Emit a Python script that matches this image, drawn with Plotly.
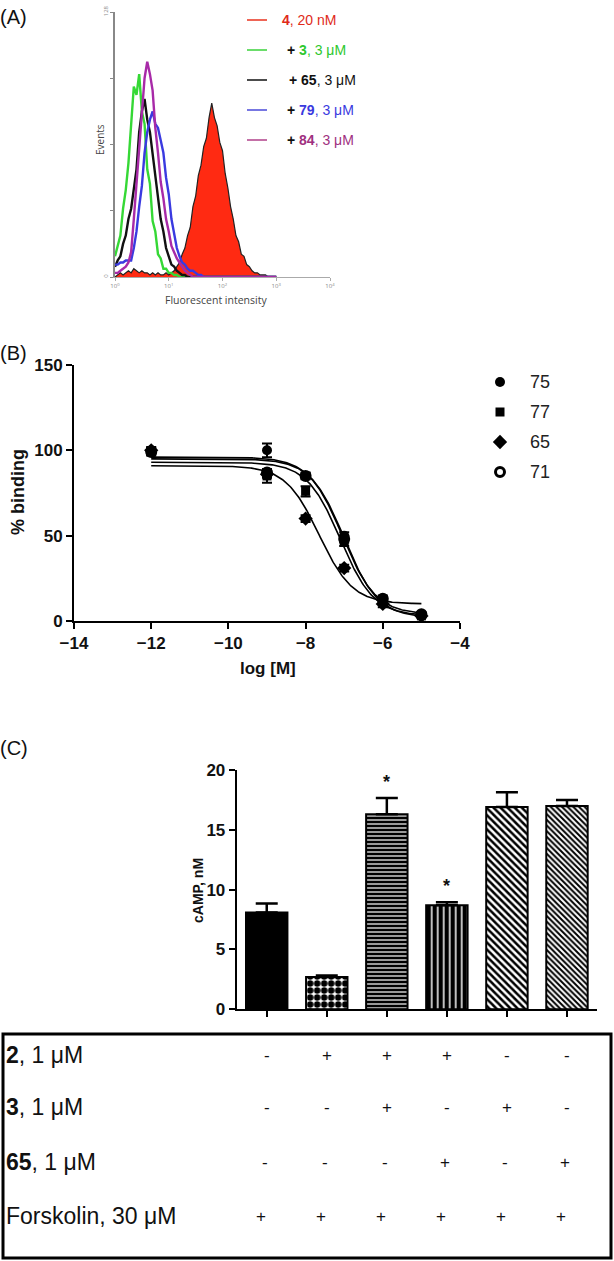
import numpy as np
import plotly.graph_objects as go

W, H = 614, 1261

# ---------------- Panel A data (histograms, log10 decades) ----------------
hist_decades = np.round(np.arange(0, 3.001, 0.05), 2)
red_4 = [0, 1, 2, 1, 2, 3, 2, 4, 3, 2, 3, 2, 2, 1, 2, 1, 2, 1, 1, 2, 1,
         2, 3, 5, 7, 11, 14, 20, 24, 34, 39, 49, 54, 63, 67, 77, 84, 77, 73, 65, 61,
         50, 43, 34, 28, 20, 17, 11, 10, 6, 5, 3, 2, 2, 1, 1, 1, 0, 0, 0, 0]
green_3 = [10, 15, 20, 33, 42, 55, 74, 92, 88, 98, 80, 74, 52, 45, 27, 22, 11, 9, 4, 4, 2,
           2, 1, 1, 0] + [0] * 36
black_65 = [5, 8, 10, 16, 20, 28, 33, 44, 52, 70, 80, 86, 76, 70, 60, 50, 40, 28, 22, 14, 10,
            6, 5, 3, 2, 1, 1, 0] + [0] * 33
blue_79 = [6, 6, 7, 7, 8, 8, 8, 14, 22, 34, 44, 60, 70, 76, 80, 74, 72, 66, 60, 48, 40,
           28, 20, 14, 10, 7, 6, 4, 3, 3, 2, 1, 1, 0] + [0] * 27
magenta_84 = [2, 2, 3, 4, 5, 7, 12, 28, 45, 58, 78, 96, 104, 98, 90, 72, 60, 46, 38, 28, 22,
              15, 12, 9, 7, 5, 3, 2, 1, 0] + [0] * 31
a_xticks = [0, 1, 2, 3, 4]
a_xticktext = ["10<sup>0</sup>", "10<sup>1</sup>", "10<sup>2</sup>", "10<sup>3</sup>", "10<sup>4</sup>"]

# ---------------- Panel B data ----------------
log_conc = [-12, -9, -8, -7, -6, -5]
b_names = ["75", "77", "65", "71"]
b75 = [100, 100, 85, 50, 12, 4]
b77 = [99, 85, 76, 47, 12, 3]
b65 = [100, 86, 60, 31, 10, 3]
b71 = [99, 87, 85, 48, 13, 4]
e75 = [2, 4, 1.5, 2, 1.5, 1]
e77 = [1.5, 4, 3, 3, 2, 1]
e65 = [1.5, 2, 2, 2, 2, 1]
e71 = [2, 2, 2, 2, 2, 1]
fit_top = [96, 93, 91, 95]
fit_bottom = [4, 3, 10, 2]
fit_logic50 = [-7.05, -7.1, -7.65, -7.0]
fit_hill = [1.0, 1.0, 1.0, 1.0]

# ---------------- Panel C data ----------------
camp = [8.1, 2.7, 16.3, 8.7, 16.9, 17.0]
camp_err = [0.75, 0.12, 1.35, 0.25, 1.25, 0.5]
sig = [False, False, True, True, False, False]
row_labels = ["<b>2</b>, 1 μM", "<b>3</b>, 1 μM", "<b>65</b>, 1 μM", "Forskolin, 30 μM"]
row_cmp2 = ["-", "+", "+", "+", "-", "-"]
row_cmp3 = ["-", "-", "+", "-", "+", "-"]
row_cmp65 = ["-", "-", "-", "+", "-", "+"]
row_forsk = ["+", "+", "+", "+", "+", "+"]


def px(x):
    return x / W


def py(y):
    return 1 - y / H


fig = go.Figure()

# ---- Panel A traces ----
fig.add_trace(go.Scatter(x=hist_decades, y=red_4, mode="lines", fill="tozeroy",
                         fillcolor="#ff2a12", line=dict(color="#222222", width=1.2),
                         xaxis="x", yaxis="y"))
for vals, col in [(green_3, "#35d835"), (black_65, "#111111"),
                  (blue_79, "#3a3ae0"), (magenta_84, "#a82aa8")]:
    fig.add_trace(go.Scatter(x=hist_decades, y=vals, mode="lines",
                             line=dict(color=col, width=2.4), xaxis="x", yaxis="y"))

# ---- Panel B traces ----
b_vals = [b75, b77, b65, b71]
b_errs = [e75, e77, e65, e71]
b_sym = ["circle", "square", "diamond", "circle-open"]
b_size = [10, 9, 11, 9]
curve_x = np.linspace(-12, -5, 300)
for i in range(4):
    curve_y = fit_bottom[i] + (fit_top[i] - fit_bottom[i]) / (
        1 + 10 ** ((curve_x - fit_logic50[i]) * fit_hill[i]))
    fig.add_trace(go.Scatter(x=curve_x, y=curve_y, mode="lines",
                             line=dict(color="black", width=1.6), xaxis="x2", yaxis="y2"))
for i in range(4):
    fig.add_trace(go.Scatter(
        x=log_conc, y=b_vals[i], mode="markers", xaxis="x2", yaxis="y2",
        marker=dict(symbol=b_sym[i], size=b_size[i], color="black",
                    line=dict(color="black", width=3 if b_sym[i] == "circle-open" else 0)),
        error_y=dict(type="data", array=b_errs[i], color="black", thickness=2, width=5)))

# B legend (overlay axis in pixel units)
leg_y = [382, 412, 442, 472]
for i in range(4):
    fig.add_trace(go.Scatter(
        x=[500], y=[leg_y[i]], mode="markers", xaxis="x4", yaxis="y4",
        marker=dict(symbol=b_sym[i], size=b_size[i], color="black",
                    line=dict(color="black", width=3 if b_sym[i] == "circle-open" else 0))))

# ---- Panel C traces ----
bar_shapes = ["", ".", "-", "|", "\\", "\\"]
bar_fg = ["black", "black", "white", "white", "black", "black"]
bar_bg = ["black", "white", "black", "black", "white", "white"]
bar_size = [8, 7, 4, 6, 5, 4]
bar_sol = [0.5, 0.65, 0.3, 0.25, 0.5, 0.5]
for i in range(6):
    fig.add_trace(go.Bar(
        x=[i], y=[camp[i]], width=0.69, xaxis="x3", yaxis="y3",
        marker=dict(color=bar_bg[i], line=dict(color="black", width=2),
                    pattern=dict(shape=bar_shapes[i], fgcolor=bar_fg[i], bgcolor=bar_bg[i],
                                 size=bar_size[i], solidity=bar_sol[i], fillmode="replace")),
        error_y=dict(type="data", symmetric=False, array=[camp_err[i]], arrayminus=[0],
                     color="black", thickness=2.5, width=11)))

ann = []
shapes = []


def note(x, y, text, size, color="#111", family="Arial", xanchor="center", angle=0, **kw):
    ann.append(dict(x=px(x), y=py(y), xref="paper", yref="paper", text=text, showarrow=False,
                    xanchor=xanchor, yanchor="middle", textangle=angle,
                    font=dict(family=family, size=size, color=color), **kw))


# Panel labels
for lab, y in [("(A)", 17), ("(B)", 353), ("(C)", 748)]:
    note(-2, y, lab, 20, xanchor="left")

# Panel A annotations
note(100, 140, "Events", 10, color="#444", family="Open Sans", angle=-90)
note(216, 300, "Fluorescent intensity", 10.5, color="#444", family="Open Sans")
a_leg = [
    ("#e8321e", "<span style='color:#e02a1a'><b>4</b>, 20 nM</span>", 280),
    ("#3ad23a", "<b>+</b> <span style='color:#2ec82e'><b>3</b>, 3 μM</span>", 285),
    ("#111111", "<b>+</b> <b>65</b>, 3 μM", 287),
    ("#4a4ad8", "<b>+</b> <span style='color:#3a3ae0'><b>79</b>, 3 μM</span>", 285),
    ("#b0408a", "<b>+</b> <span style='color:#a0307f'><b>84</b>, 3 μM</span>", 285),
]
for k, (col, txt, xs) in enumerate(a_leg):
    yy = 20 + 30 * k
    shapes.append(dict(type="line", xref="paper", yref="paper", x0=px(247), x1=px(267),
                       y0=py(yy), y1=py(yy), line=dict(color=col, width=1.5)))
    note(xs, yy, txt, 14, xanchor="left")

# Panel B annotations
note(18, 492, "<b>% binding</b>", 18, angle=-90)
note(268, 668, "<b>log [M]</b>", 17)
for i in range(4):
    note(528, leg_y[i], b_names[i], 18, color="#222", xanchor="left")

# Panel C annotations
note(198, 890, "<b>cAMP, nM</b>", 14, angle=-90)
for i in range(6):
    if sig[i]:
        ann.append(dict(x=i, y=camp[i] + camp_err[i], xref="x3", yref="y3", text="<b>*</b>",
                        showarrow=False, xanchor="center", yanchor="bottom", yshift=4,
                        font=dict(family="Arial", size=18, color="#111")))

# Table
shapes.append(dict(type="rect", xref="paper", yref="paper", x0=px(3), x1=px(611),
                   y0=py(1034), y1=py(1258), line=dict(color="black", width=3)))
row_y = [1055, 1107, 1162, 1216]
row_shift = [0, 0, -2, -6]
rows = [row_cmp2, row_cmp3, row_cmp65, row_forsk]
for r in range(4):
    note(4, row_y[r], row_labels[r], 23, xanchor="left")
    for c in range(6):
        ann.append(dict(x=c, y=py(row_y[r]), xref="x3", yref="paper", text=rows[r][c],
                        showarrow=False, xanchor="center", yanchor="middle", xshift=row_shift[r],
                        font=dict(family="Arial", size=17, color="#111")))

axis_common = dict(showgrid=False, zeroline=False, showline=True, automargin=False)
fig.update_layout(
    width=W, height=H, margin=dict(l=0, r=0, t=0, b=0, pad=0, autoexpand=False),
    paper_bgcolor="white", plot_bgcolor="rgba(0,0,0,0)", showlegend=False,
    barmode="overlay",
    xaxis=dict(domain=[px(115), px(330)], range=[0, 4], anchor="y", tickvals=a_xticks,
               ticktext=a_xticktext, tickfont=dict(size=6, color="#888"),
               linecolor="#aaaaaa", linewidth=1, ticks="outside", ticklen=3, tickcolor="#aaa",
               **axis_common),
    yaxis=dict(domain=[py(277), py(12)], range=[0, 128], anchor="x",
               tickvals=[0, 128], ticktext=["0", "128"], tickangle=-90,
               minor=dict(tickvals=[32, 64, 96], ticks="outside", ticklen=3, tickcolor="#888"),
               tickfont=dict(size=6, color="#888"), linecolor="#888888", linewidth=2,
               ticks="outside", ticklen=3, tickcolor="#888", **axis_common),
    xaxis2=dict(domain=[px(74), px(460)], range=[-14, -4], anchor="y2",
                tickvals=[-14, -12, -10, -8, -6, -4], linecolor="black", linewidth=2,
                ticks="outside", ticklen=6, tickwidth=2, tickcolor="black",
                tickfont=dict(family="Arial", size=17, color="#111", weight="bold"), **axis_common),
    yaxis2=dict(domain=[py(621), py(365)], range=[0, 150], anchor="x2",
                tickvals=[0, 50, 100, 150], linecolor="black", linewidth=2,
                ticks="outside", ticklen=6, tickwidth=2, tickcolor="black",
                tickfont=dict(family="Arial", size=17, color="#111", weight="bold"), **axis_common),
    xaxis3=dict(domain=[px(236.7), px(597)], range=[-0.5, 5.5], anchor="y3",
                tickvals=[0, 1, 2, 3, 4, 5], showticklabels=False, linecolor="black", linewidth=2,
                ticks="outside", ticklen=6, tickwidth=2, tickcolor="black", **axis_common),
    yaxis3=dict(domain=[py(1009.3), py(770)], range=[0, 20], anchor="x3",
                tickvals=[0, 5, 10, 15, 20], linecolor="black", linewidth=2,
                ticks="outside", ticklen=6, tickwidth=2, tickcolor="black",
                tickfont=dict(family="Arial", size=17, color="#111", weight="bold"), **axis_common),
    xaxis4=dict(domain=[0, 1], range=[0, W], anchor="y4", visible=False, automargin=False),
    yaxis4=dict(domain=[0, 1], range=[H, 0], anchor="x4", visible=False, automargin=False),
    annotations=ann, shapes=shapes,
)

fig.write_html("out.html", config={"displayModeBar": False},
               post_script="document.body.style.margin='0';document.body.style.overflow='hidden';")
